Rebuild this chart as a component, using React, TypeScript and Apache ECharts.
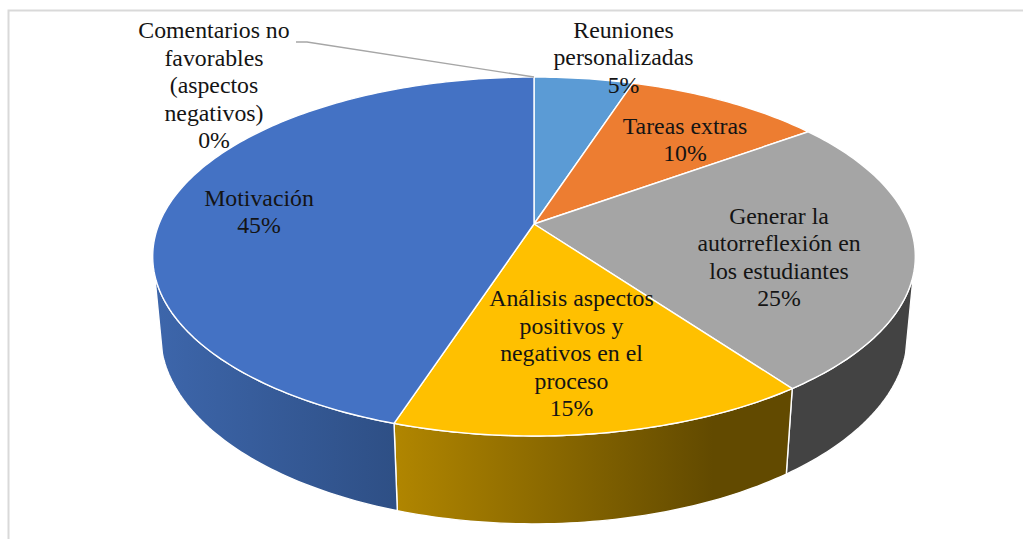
import React, { useEffect, useRef } from "react";
import * as echarts from "echarts";

// ---- data ----
const categories = [
  "Reuniones\npersonalizadas",
  "Tareas extras",
  "Generar la\nautorreflexión en\nlos estudiantes",
  "Análisis aspectos\npositivos y\nnegativos en el\nproceso",
  "Motivación",
  "Comentarios no\nfavorables\n(aspectos\nnegativos)",
];
const values = [5, 10, 25, 15, 45, 0];
const topColors = ["#5B9BD5", "#ED7D31", "#A5A5A5", "#FFC000", "#4472C4", "#70AD47"];

// ---- presentation ----
const wallStops: Record<number, [string, string, number]> = {
  2: ["#434343", "#434343", 1],
  3: ["#b18600", "#624a00", 0.8],
  4: ["#3d66ab", "#2e4f85", 1],
};
const labelCenters = [
  [623.5, 57],
  [685, 139.5],
  [779, 257],
  [571.5, 353],
  [259, 211.5],
  [214, 85],
];
const LEADER_ELBOW = [[296, 42], [307, 42]];

// Perspective model of the disc (apex of the pie and projected radii)
const CX = 534;
const CY = 224;
const A = 375;
const B = 173.6;
const K = 0.181;
const DROP = 78;
const SHRINK = 0.02;
const WALL_FROM = 106;
const WALL_TO = 254;

const total = values.reduce((s, v) => s + v, 0);
const startPct = values.map((_, i) => values.slice(0, i).reduce((s, v) => s + v, 0) / total);
const endPct = values.map((_, i) => values.slice(0, i + 1).reduce((s, v) => s + v, 0) / total);

function topPoint(deg: number): number[] {
  const t = (deg * Math.PI) / 180;
  const u = Math.sin(t);
  const v = Math.cos(t);
  const w = 1 + K * v;
  return [CX + (A * u) / w, CY - (B * v) / w];
}
function bottomPoint(deg: number): number[] {
  const t = (deg * Math.PI) / 180;
  const u = Math.sin(t);
  const v = Math.cos(t);
  const w = 1 + K * v + SHRINK;
  return [CX + (A * u) / w, CY + (-B * v + DROP) / w];
}
function arc(fn: (d: number) => number[], a: number, b: number): number[][] {
  const n = Math.max(1, Math.ceil(Math.abs(b - a)));
  const pts: number[][] = [];
  for (let i = 0; i <= n; i++) pts.push(fn(a + ((b - a) * i) / n));
  return pts;
}

const renderWall = (params: any, api: any) => {
  const i = params.dataIndex;
  const value = api.value(0);
  const a = Math.max(startPct[i] * 360, WALL_FROM);
  const b = Math.min((startPct[i] + value / total) * 360, WALL_TO);
  if (!(b > a) || !wallStops[i]) return { type: "group", children: [] };
  const [c0, c1, stop] = wallStops[i];
  const points = [...arc(topPoint, a, b), ...arc(bottomPoint, b, a)];
  return {
    type: "polygon",
    shape: { points },
    style: {
      fill: new echarts.graphic.LinearGradient(0, 0, 1, 0, [
        { offset: 0, color: c0 },
        { offset: stop, color: c1 },
        { offset: 1, color: c1 },
      ]),
      stroke: "#ffffff",
      lineWidth: 1.4,
      lineJoin: "round",
    },
  };
};

const renderTop = (params: any, api: any) => {
  const i = params.dataIndex;
  const value = api.value(0);
  if (!value) return { type: "group", children: [] };
  const a = startPct[i] * 360;
  const b = (startPct[i] + value / total) * 360;
  return {
    type: "polygon",
    shape: { points: [[CX, CY], ...arc(topPoint, a, b)] },
    style: { fill: topColors[i], stroke: "#ffffff", lineWidth: 1.4, lineJoin: "round" },
  };
};

const renderLabel = (params: any, api: any) => {
  const i = params.dataIndex;
  const value = api.value(0);
  const children: any[] = [];
  if (!value) {
    const p = topPoint(endPct[i] * 360);
    children.push({
      type: "polyline",
      shape: { points: [...LEADER_ELBOW, p] },
      style: { fill: "none", stroke: "#a6a6a6", lineWidth: 1.3 },
    });
  }
  children.push({
    type: "text",
    style: {
      text: `${categories[i]}\n${value}%`,
      x: labelCenters[i][0],
      y: labelCenters[i][1],
      align: "center",
      verticalAlign: "middle",
      fill: "#141414",
      font: '23.8px "Liberation Serif", "Times New Roman", serif',
      lineHeight: 27.5,
    },
  });
  return { type: "group", children };
};

export default function App() {
  const ref = useRef<HTMLDivElement>(null);
  useEffect(() => {
    const chart = echarts.init(ref.current!, undefined, { renderer: "svg" });
    chart.setOption({
      animation: false,
      backgroundColor: "#ffffff",
      graphic: [
        {
          type: "polyline",
          z: 0,
          shape: { points: [[8.5, 539], [8.5, 10.5], [1023, 10.5]] },
          style: { fill: "none", stroke: "#d9d9d9", lineWidth: 2 },
        },
      ],
      series: [
        { type: "custom", coordinateSystem: "none", silent: true, z: 2, data: values, renderItem: renderWall },
        { type: "custom", coordinateSystem: "none", silent: true, z: 3, data: values, renderItem: renderTop },
        { type: "custom", coordinateSystem: "none", silent: true, z: 4, data: values, renderItem: renderLabel },
      ],
    });
    return () => chart.dispose();
  }, []);
  return (
    <div
      ref={ref}
      style={{ position: "fixed", left: 0, top: 0, width: 1023, height: 539 }}
    />
  );
}
